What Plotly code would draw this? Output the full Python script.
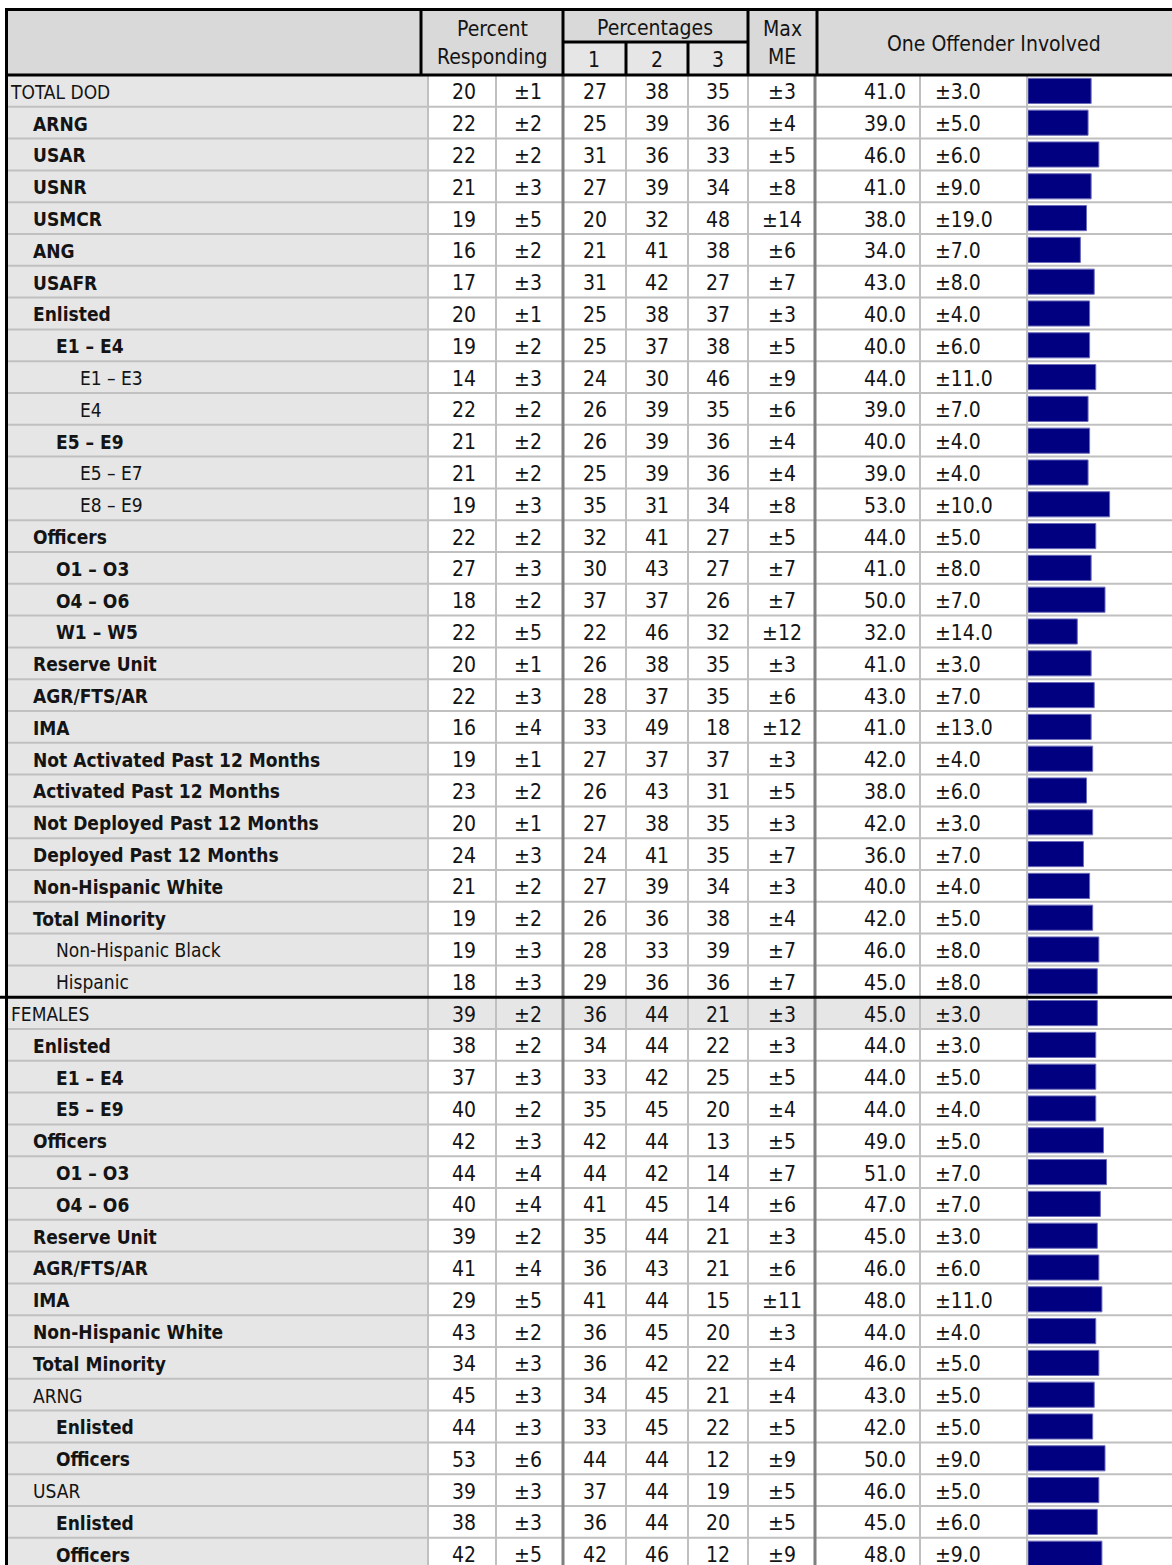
import plotly.graph_objects as go

# ---------------------------------------------------------------------------
# Data read off the reference table
# ---------------------------------------------------------------------------

labels = [
    "TOTAL DOD", "ARNG", "USAR", "USNR", "USMCR", "ANG", "USAFR", "Enlisted",
    "E1 – E4", "E1 – E3", "E4", "E5 – E9", "E5 – E7", "E8 – E9", "Officers",
    "O1 – O3", "O4 – O6", "W1 – W5", "Reserve Unit", "AGR/FTS/AR", "IMA",
    "Not Activated Past 12 Months", "Activated Past 12 Months",
    "Not Deployed Past 12 Months", "Deployed Past 12 Months",
    "Non-Hispanic White", "Total Minority", "Non-Hispanic Black", "Hispanic",
    "FEMALES", "Enlisted", "E1 – E4", "E5 – E9", "Officers", "O1 – O3", "O4 – O6",
    "Reserve Unit", "AGR/FTS/AR", "IMA", "Non-Hispanic White", "Total Minority",
    "ARNG", "Enlisted", "Officers", "USAR", "Enlisted", "Officers",
]
levels = [
    0, 1, 1, 1, 1, 1, 1, 1, 2, 3, 3, 2, 3, 3, 1, 2, 2, 2, 1, 1, 1,
    1, 1, 1, 1, 1, 1, 2, 2,
    0, 1, 2, 2, 1, 2, 2, 1, 1, 1, 1, 1, 1, 2, 2, 1, 2, 2,
]
bold = [
    0, 1, 1, 1, 1, 1, 1, 1, 1, 0, 0, 1, 0, 0, 1, 1, 1, 1, 1, 1, 1,
    1, 1, 1, 1, 1, 1, 0, 0,
    0, 1, 1, 1, 1, 1, 1, 1, 1, 1, 1, 1, 0, 1, 1, 0, 1, 1,
]

resp = [20, 22, 22, 21, 19, 16, 17, 20, 19, 14, 22, 21, 21, 19, 22, 27, 18, 22, 20, 22, 16,
        19, 23, 20, 24, 21, 19, 19, 18,
        39, 38, 37, 40, 42, 44, 40, 39, 41, 29, 43, 34, 45, 44, 53, 39, 38, 42]
resp_me = [1, 2, 2, 3, 5, 2, 3, 1, 2, 3, 2, 2, 2, 3, 2, 3, 2, 5, 1, 3, 4,
           1, 2, 1, 3, 2, 2, 3, 3,
           2, 2, 3, 2, 3, 4, 4, 2, 4, 5, 2, 3, 3, 3, 6, 3, 3, 5]
pct1 = [27, 25, 31, 27, 20, 21, 31, 25, 25, 24, 26, 26, 25, 35, 32, 30, 37, 22, 26, 28, 33,
        27, 26, 27, 24, 27, 26, 28, 29,
        36, 34, 33, 35, 42, 44, 41, 35, 36, 41, 36, 36, 34, 33, 44, 37, 36, 42]
pct2 = [38, 39, 36, 39, 32, 41, 42, 38, 37, 30, 39, 39, 39, 31, 41, 43, 37, 46, 38, 37, 49,
        37, 43, 38, 41, 39, 36, 33, 36,
        44, 44, 42, 45, 44, 42, 45, 44, 43, 44, 45, 42, 45, 45, 44, 44, 44, 46]
pct3 = [35, 36, 33, 34, 48, 38, 27, 37, 38, 46, 35, 36, 36, 34, 27, 27, 26, 32, 35, 35, 18,
        37, 31, 35, 35, 34, 38, 39, 36,
        21, 22, 25, 20, 13, 14, 14, 21, 21, 15, 20, 22, 21, 22, 12, 19, 20, 12]
max_me = [3, 4, 5, 8, 14, 6, 7, 3, 5, 9, 6, 4, 4, 8, 5, 7, 7, 12, 3, 6, 12,
          3, 5, 3, 7, 3, 4, 7, 7,
          3, 3, 5, 4, 5, 7, 6, 3, 6, 11, 3, 4, 4, 5, 9, 5, 5, 9]
offender = [41, 39, 46, 41, 38, 34, 43, 40, 40, 44, 39, 40, 39, 53, 44, 41, 50, 32, 41, 43, 41,
            42, 38, 42, 36, 40, 42, 46, 45,
            45, 44, 44, 44, 49, 51, 47, 45, 46, 48, 44, 46, 43, 42, 50, 46, 45, 48]
offender_me = [3, 5, 6, 9, 19, 7, 8, 4, 6, 11, 7, 4, 4, 10, 5, 8, 7, 14, 3, 7, 13,
               4, 6, 3, 7, 4, 5, 8, 8,
               3, 3, 5, 4, 5, 7, 7, 3, 6, 11, 4, 5, 5, 5, 9, 5, 6, 9]

header_top = ["Percent", "Percentages", "Max"]
header_bottom = ["Responding", "1", "2", "3", "ME"]
panel_title = "One Offender Involved"

# ---------------------------------------------------------------------------
# Layout constants (pixels)
# ---------------------------------------------------------------------------

W, H = 1172, 1565
TOP = 75.0          # top of first data row
ROW_H = 31.8
FONT = "DejaVu Sans Condensed, Liberation Sans Narrow, sans-serif"
FS = 21
FS_LABEL = 19
INK = "#141414"
GRID = "#c0c0c0"
DARK = "#7f7f7f"
FEMALES_ROW = 29
BAR_X0 = 1028
PX_PER_PCT = 1.54
TEXT_SHIFT = 0.1    # text sits a little below the row centre

n = len(labels)
rows = list(range(n))
text_rows = [r + TEXT_SHIFT for r in rows]


def ry(p):
    """pixel y -> row units"""
    return (p - TOP) / ROW_H - 0.5


y_bottom = ry(H)
y_top = ry(0)

shapes = []


def rect(x0, x1, y0, y1, fill):
    shapes.append(dict(type="rect", xref="x", yref="y", x0=x0, x1=x1, y0=y0, y1=y1,
                       fillcolor=fill, line=dict(width=0), layer="below"))


def line(x0, y0, x1, y1, color, width, layer="below"):
    shapes.append(dict(type="line", xref="x", yref="y", x0=x0, y0=y0, x1=x1, y1=y1,
                       line=dict(color=color, width=width), layer=layer))


# backgrounds
rect(8, W, ry(10), -0.5, "#d9d9d9")
rect(563, 748, ry(42), -0.5, "#e6e6e6")
rect(8, 428, -0.5, y_bottom, "#e6e6e6")
rect(428, 1027, FEMALES_ROW - 0.5, FEMALES_ROW + 0.5, "#e6e6e6")

# grid
for k in range(1, n + 1):
    line(8, k - 0.5, W, k - 0.5, GRID, 2)
for xv in [428, 496, 626, 688, 748, 920, 1027]:
    line(xv, -0.5, xv, y_bottom, GRID, 2)
for xv in [563, 815]:
    line(xv, -0.5, xv, y_bottom, DARK, 3)

# black frame / header borders
line(5, ry(9.5), W, ry(9.5), "black", 3, "above")
line(5, -0.5, W, -0.5, "black", 3, "above")
line(0, FEMALES_ROW - 0.5, W, FEMALES_ROW - 0.5, "black", 3, "above")
line(6.5, ry(8), 6.5, y_bottom, "black", 3, "above")
for xv in [421, 563, 748, 817]:
    line(xv, ry(9.5), xv, -0.5, "black", 3, "above")
for xv in [626, 688]:
    line(xv, ry(42), xv, -0.5, "black", 3, "above")
line(563, ry(42), 748, ry(42), "black", 3, "above")

# header text
annotations = []


def head(text, x, ypix):
    annotations.append(dict(text=text, x=x, y=ry(ypix), xref="x", yref="y",
                            showarrow=False, xanchor="center", yanchor="middle",
                            font=dict(family=FONT, size=FS, color=INK)))


head(header_top[0], 492, 29)
head(header_bottom[0], 492, 57)
head(header_top[1], 655, 28)
head(header_bottom[1], 594, 60)
head(header_bottom[2], 657, 60)
head(header_bottom[3], 718, 60)
head(header_top[2], 782, 29)
head(header_bottom[4], 782, 57)
head(panel_title, 994, 44)

# ---------------------------------------------------------------------------
# Traces
# ---------------------------------------------------------------------------

fig = go.Figure()


def text_col(x, texts, pos):
    fig.add_trace(go.Scatter(
        x=[x] * n, y=text_rows, text=texts, mode="text", textposition=pos,
        textfont=dict(family=FONT, size=FS, color=INK),
        hoverinfo="skip", showlegend=False, xaxis="x", yaxis="y",
    ))


indent_x = [11, 33, 56, 80]
label_text = [f"<b>{t}</b>" if b else t for t, b in zip(labels, bold)]
fig.add_trace(go.Scatter(
    x=[indent_x[lv] for lv in levels], y=text_rows, text=label_text, mode="text",
    textposition="middle right",
    textfont=dict(family=FONT, size=FS_LABEL, color=INK),
    hoverinfo="skip", showlegend=False, xaxis="x", yaxis="y",
))

text_col(464, [str(v) for v in resp], "middle center")
text_col(528, [f"±{v}" for v in resp_me], "middle center")
text_col(595, [str(v) for v in pct1], "middle center")
text_col(657, [str(v) for v in pct2], "middle center")
text_col(718, [str(v) for v in pct3], "middle center")
text_col(782, [f"±{v}" for v in max_me], "middle center")
text_col(906, [f"{v:.1f}" for v in offender], "middle left")
text_col(935, [f"±{v:.1f}" for v in offender_me], "middle right")

fig.add_trace(go.Bar(
    x=offender, y=rows, orientation="h", width=0.79,
    marker=dict(color="#000080", line=dict(color="#6a6ab8", width=1)),
    hoverinfo="skip", showlegend=False, xaxis="x2", yaxis="y",
))

fig.update_layout(
    width=W, height=H,
    margin=dict(l=0, r=0, t=0, b=0),
    paper_bgcolor="white", plot_bgcolor="rgba(0,0,0,0)",
    xaxis=dict(range=[0, W], domain=[0, 1], visible=False, fixedrange=True),
    xaxis2=dict(range=[0, (W - BAR_X0) / PX_PER_PCT], domain=[BAR_X0 / W, 1],
                anchor="y", visible=False, fixedrange=True),
    yaxis=dict(range=[y_bottom, y_top], visible=False, fixedrange=True),
    shapes=shapes,
    annotations=annotations,
    bargap=0,
)

fig.write_html(
    "out.html",
    config={"displayModeBar": False, "staticPlot": True},
    post_script="document.body.style.margin='0px';",
)
